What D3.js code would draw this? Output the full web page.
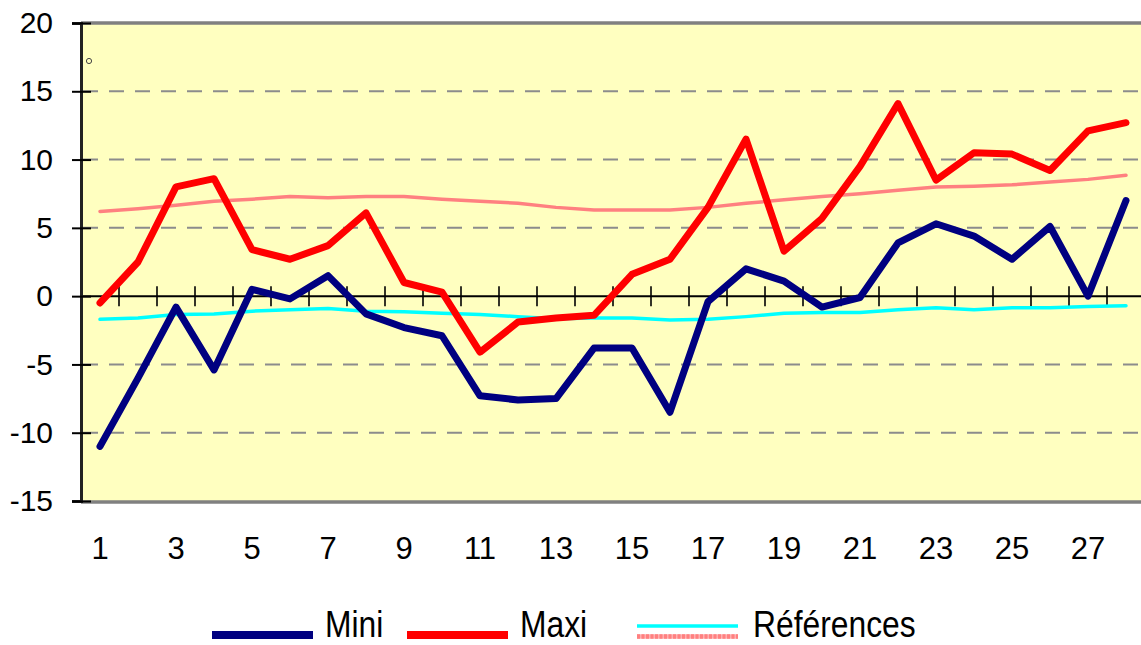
<!DOCTYPE html>
<html>
<head>
<meta charset="utf-8">
<script src="https://cdn.jsdelivr.net/npm/d3@7"></script>
<style>
  html, body { margin: 0; padding: 0; background: #ffffff; }
  svg { display: block; font-family: "Liberation Sans", Arial, sans-serif; }
</style>
</head>
<body>
<svg id="chart" width="1141" height="645"></svg>
<script>
// Days of the month (category axis)
const days = [1, 2, 3, 4, 5, 6, 7, 8, 9, 10, 11, 12, 13, 14, 15, 16, 17, 18, 19, 20, 21, 22, 23, 24, 25, 26, 27, 28];
// Daily minimum temperatures (°C)
const mini = [-11.0, -6.0, -0.8, -5.4, 0.5, -0.2, 1.5, -1.3, -2.3, -2.9, -7.3, -7.6, -7.5, -3.8, -3.8, -8.5, -0.4, 2.0, 1.1, -0.8, -0.1, 3.9, 5.3, 4.4, 2.7, 5.1, 0.0, 7.0];
// Daily maximum temperatures (°C)
const maxi = [-0.5, 2.5, 8.0, 8.6, 3.4, 2.7, 3.7, 6.1, 1.0, 0.3, -4.1, -1.9, -1.6, -1.4, 1.6, 2.7, 6.5, 11.5, 3.3, 5.7, 9.5, 14.1, 8.5, 10.5, 10.4, 9.2, 12.1, 12.7];
// Normal (reference) minimum and maximum
const refMini = [-1.7, -1.6, -1.35, -1.3, -1.1, -1.0, -0.9, -1.1, -1.15, -1.25, -1.35, -1.5, -1.65, -1.6, -1.6, -1.75, -1.7, -1.5, -1.25, -1.2, -1.2, -1.0, -0.85, -1.0, -0.85, -0.85, -0.75, -0.7];
const refMaxi = [6.2, 6.4, 6.65, 6.95, 7.1, 7.3, 7.2, 7.3, 7.3, 7.1, 6.95, 6.8, 6.5, 6.3, 6.3, 6.3, 6.5, 6.8, 7.05, 7.3, 7.5, 7.75, 8.0, 8.05, 8.15, 8.35, 8.55, 8.85];
// Axis ticks
const yTicks = [-15, -10, -5, 0, 5, 10, 15, 20];
const xLabels = [1, 3, 5, 7, 9, 11, 13, 15, 17, 19, 21, 23, 25, 27];
// Legend entries
const legendNames = ["Mini", "Maxi", "Références"];

const svg = d3.select("#chart");

const plot = { left: 81, right: 1145, top: 23, bottom: 501 };

const x = d3.scaleBand().domain(days).range([plot.left, plot.right]);
const xc = d => x(d) + x.bandwidth() / 2;
const y = d3.scaleLinear().domain([-15, 20]).range([plot.bottom, plot.top]);

// Plot area background
svg.append("rect")
  .attr("x", plot.left).attr("y", plot.top)
  .attr("width", plot.right - plot.left).attr("height", plot.bottom - plot.top)
  .attr("fill", "#ffffc0");

// Dashed horizontal gridlines
svg.append("g")
  .selectAll("line")
  .data(yTicks.filter(v => v !== 0 && v !== 20 && v !== -15))
  .join("line")
  .attr("x1", plot.left + 2).attr("x2", plot.right)
  .attr("y1", d => y(d)).attr("y2", d => y(d))
  .attr("stroke", "#8c8c8c").attr("stroke-width", 2)
  .attr("stroke-dasharray", "15,11");

// Plot frame (top and bottom edges)
svg.append("line")
  .attr("x1", plot.left).attr("x2", plot.right)
  .attr("y1", plot.top).attr("y2", plot.top)
  .attr("stroke", "#808080").attr("stroke-width", 3.5);
svg.append("line")
  .attr("x1", plot.left).attr("x2", plot.right)
  .attr("y1", plot.bottom + 1).attr("y2", plot.bottom + 1)
  .attr("stroke", "#808080").attr("stroke-width", 3.5);

// Category axis crossing at zero, with crossing tick marks at category boundaries
const xAxis = d3.axisBottom(x)
  .tickValues(days.slice(1))
  .tickSize(10)
  .tickFormat("");
const gx = svg.append("g").attr("transform", `translate(0,${y(0)})`).call(xAxis);
gx.select(".domain").remove();
gx.selectAll(".tick").attr("transform", d => `translate(${x(d)},0)`);
gx.selectAll(".tick line").attr("y1", -10).attr("y2", 10)
  .attr("stroke", "#000").attr("stroke-width", 1.6);
svg.append("line")
  .attr("x1", plot.left).attr("x2", plot.right)
  .attr("y1", y(0)).attr("y2", y(0))
  .attr("stroke", "#000").attr("stroke-width", 2);

// Category labels below the plot
const xLab = d3.axisBottom(x).tickValues(xLabels).tickSize(0).tickPadding(36);
const gxl = svg.append("g").attr("transform", `translate(0,${plot.bottom})`).call(xLab);
gxl.select(".domain").remove();
gxl.selectAll("text").attr("font-size", 31).attr("fill", "#000")
  .attr("font-family", "'Liberation Sans', Arial, sans-serif");

// Value axis (plain hyphen for negative numbers)
const yAxis = d3.axisLeft(y).tickValues(yTicks).tickSize(9).tickPadding(19)
  .tickFormat(d => String(d));
const gy = svg.append("g").attr("transform", `translate(${plot.left},0)`).call(yAxis);
gy.select(".domain").attr("stroke", "#222").attr("stroke-width", 3);
gy.selectAll(".tick line").attr("x1", -9).attr("x2", 10)
  .attr("stroke", "#000").attr("stroke-width", 2);
gy.selectAll("text").attr("font-size", 30).attr("fill", "#000")
  .attr("font-family", "'Liberation Sans', Arial, sans-serif");

// Small marker near the top-left corner
svg.append("circle").attr("cx", 89).attr("cy", 61).attr("r", 2.6)
  .attr("fill", "none").attr("stroke", "#444").attr("stroke-width", 1);

// Series lines
const line = values => d3.line()
  .x((d, i) => xc(days[i]))
  .y(d => y(d))(values);

const series = [
  { values: refMini, color: "#00ffff", width: 3.5 },
  { values: refMaxi, color: "#ff8080", width: 3.5 },
  { values: mini, color: "#000080", width: 7 },
  { values: maxi, color: "#ff0000", width: 7 }
];

svg.append("g").selectAll("path")
  .data(series)
  .join("path")
  .attr("d", s => line(s.values))
  .attr("fill", "none")
  .attr("stroke", s => s.color)
  .attr("stroke-width", s => s.width)
  .attr("stroke-linejoin", "round")
  .attr("stroke-linecap", "round");

// Legend
const legend = svg.append("g");
const legendItems = [
  { name: legendNames[0], x: 212, swatches: [{ color: "#000080", dy: 0, w: 8 }] },
  { name: legendNames[1], x: 407, swatches: [{ color: "#ff0000", dy: 0, w: 8 }] },
  { name: legendNames[2], x: 637, swatches: [{ color: "#00ffff", dy: -9, w: 3.5 }, { color: "#ff8080", dy: 1.5, w: 4.5, dash: "3,1.5" }] }
];
legendItems.forEach(item => {
  item.swatches.forEach(s => {
    if (s.dash) {
      legend.append("line")
        .attr("x1", item.x).attr("x2", item.x + 101)
        .attr("y1", 635 + s.dy).attr("y2", 635 + s.dy)
        .attr("stroke", "#ffb0b0").attr("stroke-width", s.w);
    }
    legend.append("line")
      .attr("x1", item.x).attr("x2", item.x + 101)
      .attr("y1", 635 + s.dy).attr("y2", 635 + s.dy)
      .attr("stroke", s.color).attr("stroke-width", s.w)
      .attr("stroke-dasharray", s.dash || null);
  });
  legend.append("text")
    .attr("transform", `translate(${item.x + (item.name === "Références" ? 116 : 113)},637) scale(0.86,1)`)
    .attr("font-size", 37)
    .attr("fill", "#000")
    .text(item.name);
});
</script>
</body>
</html>
